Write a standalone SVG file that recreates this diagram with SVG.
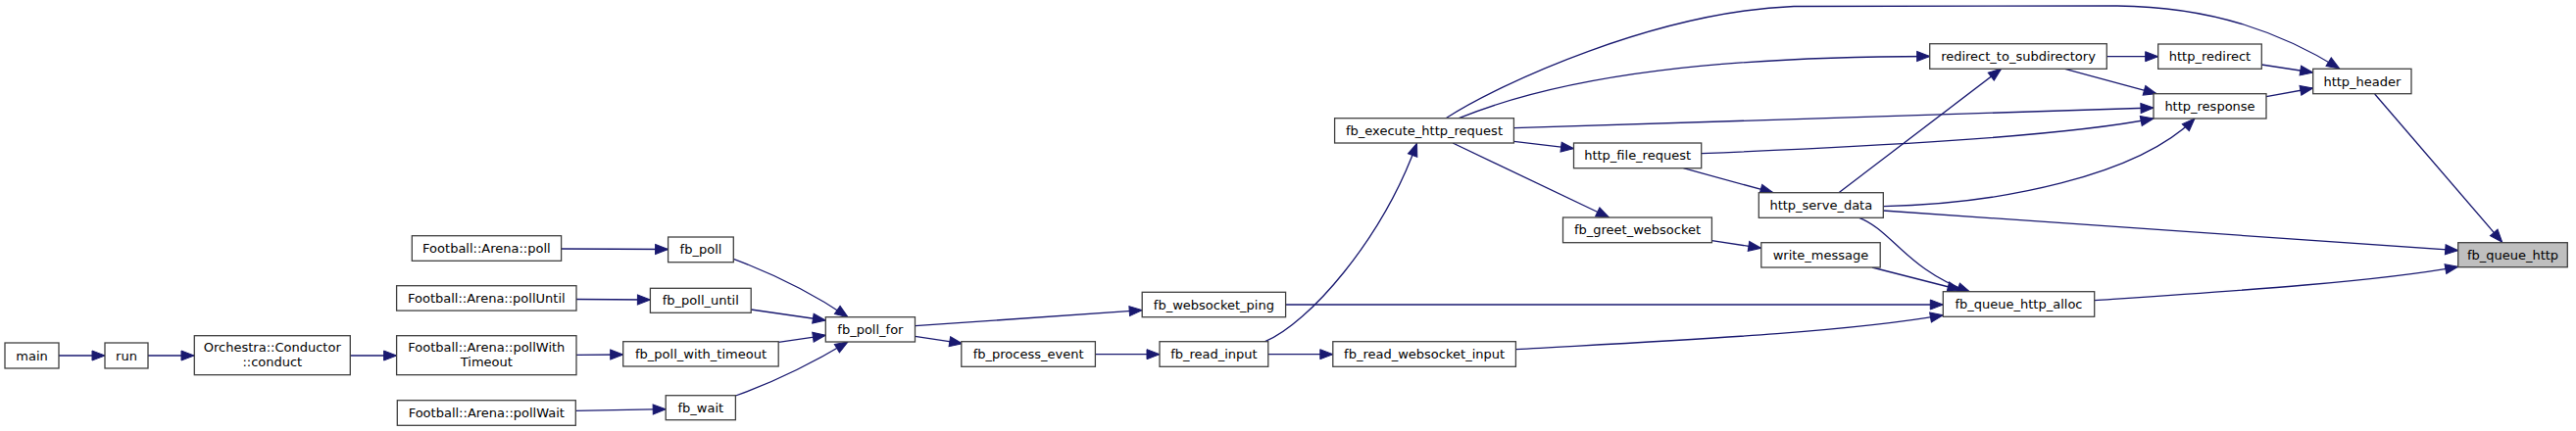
<svg xmlns="http://www.w3.org/2000/svg" width="2628" height="440" viewBox="0 0 2628 440">
<style>
.n rect{fill:#ffffff;stroke:#404040;stroke-width:1.3}
.n.h rect{fill:#bfbfbf}
.n text{font-family:"DejaVu Sans",sans-serif;font-size:13px;fill:#000;text-anchor:middle}
.e path{fill:none;stroke:#191970;stroke-width:1.3;marker-end:url(#ah)}
</style>
<defs>
<marker id="ah" markerUnits="userSpaceOnUse" markerWidth="13" markerHeight="10" refX="13" refY="5" orient="auto" overflow="visible">
<path d="M0,0 L13,5 L0,10 z" fill="#191970" stroke="#191970" stroke-width="1"/>
</marker>
</defs>
<rect width="2628" height="440" fill="#ffffff"/>
<g id="connectors" class="e">
<path d="M60,363 H107"/>
<path d="M151,363 H198"/>
<path d="M357,363 H404.6"/>
<path d="M572.6,254 L681.6,254.5"/>
<path d="M588,305.5 L663.4,306"/>
<path d="M588,362.3 L635.7,362"/>
<path d="M587.3,419.3 L679.2,417.7"/>
<path d="M748.3,264.3 C790,280 830,300 865,323.7"/>
<path d="M766.2,316 L842.3,327"/>
<path d="M794.2,349.3 L842.3,342.3"/>
<path d="M750.4,404 C790,390 830,370 865,349"/>
<path d="M933.5,332.7 L1165.2,316.7"/>
<path d="M933.5,343.3 L981.7,350.7"/>
<path d="M1117.4,361.7 H1183"/>
<path d="M1293.8,361.7 H1359.8"/>
<path d="M1290.6,348.7 C1335,330 1410,245 1445.5,146.3"/>
<path d="M1311.6,311 H1982.3"/>
<path d="M1546.4,356.7 C1700,348 1880,340 1982.3,321.7"/>
<path d="M1475,120.7 C1530,85 1690,12 1830,6.5 L2160,6 C2260,7 2330,35 2386.7,70"/>
<path d="M1488.3,120.7 C1600,75 1760,58 1968.7,57.5"/>
<path d="M1544.4,130.7 L2197,110"/>
<path d="M1544.4,144.3 L1605.5,151.7"/>
<path d="M1482.1,146 L1641.5,222"/>
<path d="M1735.7,156.7 C1900,150 2100,140 2197,121"/>
<path d="M1717.4,171.7 L1808.9,196.7"/>
<path d="M1875.9,196.7 L2041.6,70.3"/>
<path d="M1921.3,210.7 C2040,208 2180,180 2239,121"/>
<path d="M1921.3,215 L2507.7,255.7"/>
<path d="M1896.7,222.3 C1930,235 1945,275 2010,298.3"/>
<path d="M1910,273 L2000,296"/>
<path d="M1746.4,245.7 L1796.8,253.3"/>
<path d="M2149.3,57.7 H2201.7"/>
<path d="M2106.7,70.3 L2200,95.7"/>
<path d="M2307.3,66 L2359.7,74"/>
<path d="M2312,98.7 L2359.7,90"/>
<path d="M2422.7,96 L2552.7,247.3"/>
<path d="M2136.7,306.7 C2280,297 2420,288 2507.7,272.3"/>
</g>
<g id="main" class="n"><rect x="5" y="350" width="55" height="26"/><text x="32.5" y="367.5">main</text></g>
<g id="run" class="n"><rect x="107" y="350" width="44" height="26"/><text x="129" y="367.5">run</text></g>
<g id="conduct" class="n"><rect x="198.3" y="342.7" width="159" height="40"/><text x="277.8" y="359">Orchestra::Conductor</text><text x="277.8" y="373.7">::conduct</text></g>
<g id="arena_poll" class="n"><rect x="420.3" y="240.7" width="152.3" height="25.6"/><text x="496.4" y="258">Football::Arena::poll</text></g>
<g id="arena_pollUntil" class="n"><rect x="404.6" y="291.7" width="183.4" height="25.4"/><text x="496.3" y="309">Football::Arena::pollUntil</text></g>
<g id="arena_pollWithTimeout" class="n"><rect x="404.6" y="342.7" width="183.4" height="40"/><text x="496.3" y="359">Football::Arena::pollWith</text><text x="496.3" y="373.7">Timeout</text></g>
<g id="arena_pollWait" class="n"><rect x="405.3" y="408.7" width="182" height="25.6"/><text x="496.3" y="426">Football::Arena::pollWait</text></g>
<g id="fb_poll" class="n"><rect x="681.6" y="242" width="66.7" height="25.7"/><text x="715" y="259.4">fb_poll</text></g>
<g id="fb_poll_until" class="n"><rect x="663.4" y="294.3" width="102.8" height="25"/><text x="714.8" y="311.4">fb_poll_until</text></g>
<g id="fb_poll_with_timeout" class="n"><rect x="635.7" y="348.7" width="158.5" height="25.3"/><text x="715" y="365.9">fb_poll_with_timeout</text></g>
<g id="fb_wait" class="n"><rect x="679.2" y="403.7" width="71.2" height="25"/><text x="714.8" y="420.8">fb_wait</text></g>
<g id="fb_poll_for" class="n"><rect x="842.3" y="323.7" width="91.2" height="25.3"/><text x="887.9" y="340.9">fb_poll_for</text></g>
<g id="fb_websocket_ping" class="n"><rect x="1165.2" y="298.3" width="146.4" height="25.4"/><text x="1238.4" y="315.5">fb_websocket_ping</text></g>
<g id="fb_process_event" class="n"><rect x="980.8" y="348.7" width="136.6" height="25.6"/><text x="1049.1" y="366">fb_process_event</text></g>
<g id="fb_read_input" class="n"><rect x="1183" y="348.7" width="110.8" height="25.6"/><text x="1238.4" y="366">fb_read_input</text></g>
<g id="fb_read_websocket_input" class="n"><rect x="1359.8" y="348.7" width="186.6" height="25.6"/><text x="1453.1" y="366">fb_read_websocket_input</text></g>
<g id="fb_execute_http_request" class="n"><rect x="1361.6" y="120.7" width="182.8" height="25.3"/><text x="1453" y="137.9">fb_execute_http_request</text></g>
<g id="http_file_request" class="n"><rect x="1605.5" y="146" width="130.2" height="25.7"/><text x="1670.6" y="163.4">http_file_request</text></g>
<g id="fb_greet_websocket" class="n"><rect x="1594.5" y="222" width="151.9" height="25.7"/><text x="1670.5" y="239.4">fb_greet_websocket</text></g>
<g id="http_serve_data" class="n"><rect x="1794.3" y="196.7" width="127" height="25.6"/><text x="1857.8" y="214">http_serve_data</text></g>
<g id="write_message" class="n"><rect x="1796.8" y="247.7" width="121.4" height="25.3"/><text x="1857.5" y="264.9">write_message</text></g>
<g id="redirect_to_subdirectory" class="n"><rect x="1968.7" y="44.7" width="180.6" height="25.6"/><text x="2059" y="62">redirect_to_subdirectory</text></g>
<g id="http_redirect" class="n"><rect x="2201.7" y="45" width="105.6" height="25.3"/><text x="2254.5" y="62.2">http_redirect</text></g>
<g id="http_response" class="n"><rect x="2197" y="95.7" width="115" height="25.3"/><text x="2254.5" y="112.9">http_response</text></g>
<g id="http_header" class="n"><rect x="2359.7" y="70.3" width="100.3" height="25.4"/><text x="2409.9" y="87.5">http_header</text></g>
<g id="fb_queue_http_alloc" class="n"><rect x="1982.3" y="297.7" width="154.4" height="25.6"/><text x="2059.5" y="315">fb_queue_http_alloc</text></g>
<g id="fb_queue_http" class="n h"><rect x="2507.7" y="247.7" width="111.6" height="25"/><text x="2563.5" y="264.7">fb_queue_http</text></g>
</svg>
